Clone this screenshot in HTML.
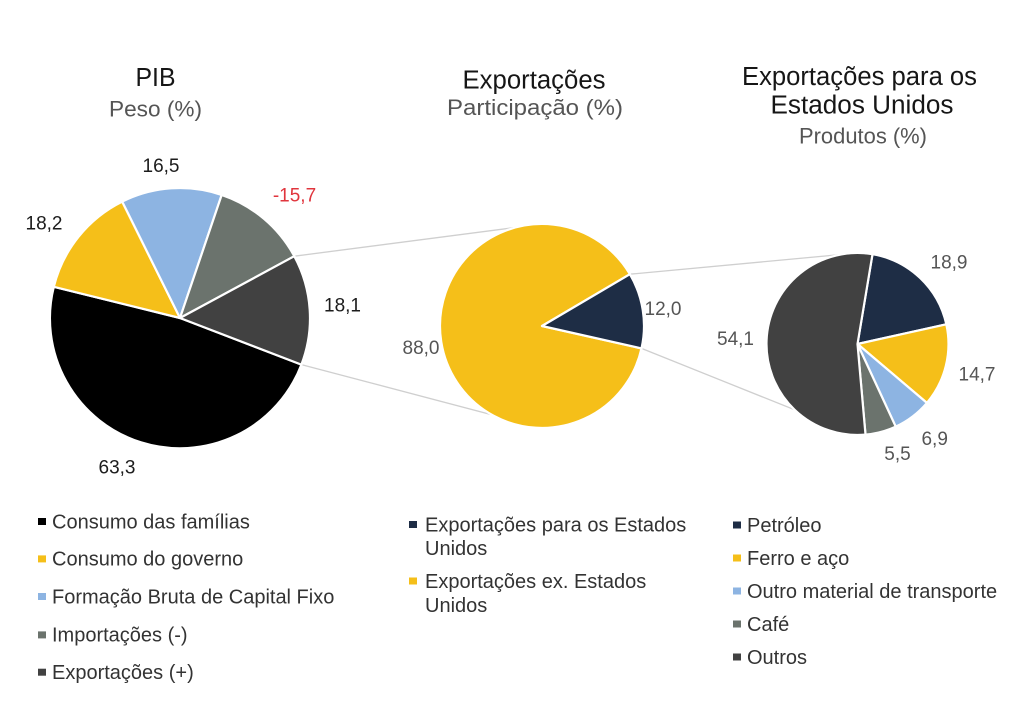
<!DOCTYPE html>
<html>
<head>
<meta charset="utf-8">
<style>
  html, body { margin:0; padding:0; background:#ffffff; }
  body { width:1024px; height:711px; overflow:hidden; }
  svg { display:block; }
  text { font-family: "Liberation Sans", Arial, sans-serif; }
  .t { fill:#161616; font-size:25.5px; }
  .s { fill:#555555; font-size:22.5px; }
  .lb { fill:#1c1c1c; font-size:19px; }
  .lg { fill:#555555; font-size:19px; }
  .leg { fill:#333333; font-size:20px; }
</style>
</head>
<body>
<svg width="1024" height="711" viewBox="0 0 1024 711" xmlns="http://www.w3.org/2000/svg">
  <rect width="1024" height="711" fill="#ffffff"/>

  <!-- Titles -->
  <text class="t" x="155.5" y="86" text-anchor="middle" textLength="40" lengthAdjust="spacingAndGlyphs">PIB</text>
  <text class="s" x="155.5" y="116.7" text-anchor="middle" textLength="93" lengthAdjust="spacingAndGlyphs">Peso (%)</text>

  <text class="t" x="534" y="88.3" text-anchor="middle" textLength="143" lengthAdjust="spacingAndGlyphs">Exportações</text>
  <text class="s" x="535" y="115" text-anchor="middle" textLength="176" lengthAdjust="spacingAndGlyphs">Participação (%)</text>

  <text class="t" x="859.5" y="85" text-anchor="middle" textLength="235" lengthAdjust="spacingAndGlyphs">Exportações para os</text>
  <text class="t" x="862" y="113.3" text-anchor="middle" textLength="183" lengthAdjust="spacingAndGlyphs">Estados Unidos</text>
  <text class="s" x="863" y="143.3" text-anchor="middle" textLength="128" lengthAdjust="spacingAndGlyphs">Produtos (%)</text>

  <!-- Connector lines (behind pies) -->
  <g stroke="#cfcfcf" stroke-width="1.3" fill="none">
    <line x1="294.3" y1="256.2" x2="542" y2="224"/>
    <line x1="301.4" y1="364.6" x2="542" y2="428"/>
    <line x1="629.9" y1="274.2" x2="857.5" y2="253"/>
    <line x1="641.5" y1="348.4" x2="857.5" y2="435"/>
  </g>

  <!-- Left pie: PIB -->
  <g stroke="#ffffff" stroke-width="2.2" stroke-linejoin="round">
    <path d="M180,318 L301.4,364.6 A130,130 0 0 1 53.8,286.8 Z" fill="#000000"/>
    <path d="M180,318 L53.8,286.8 A130,130 0 0 1 122.2,201.6 Z" fill="#F5BF19"/>
    <path d="M180,318 L122.2,201.6 A130,130 0 0 1 221.7,194.9 Z" fill="#8DB4E2"/>
    <path d="M180,318 L221.7,194.9 A130,130 0 0 1 294.3,256.2 Z" fill="#6B736D"/>
    <path d="M180,318 L294.3,256.2 A130,130 0 0 1 301.4,364.6 Z" fill="#414141"/>
  </g>

  <!-- Middle pie -->
  <g stroke="#ffffff" stroke-width="2.2" stroke-linejoin="round">
    <path d="M542,326 L641.5,348.4 A102,102 0 1 1 629.9,274.2 Z" fill="#F5BF19"/>
    <path d="M542,326 L629.9,274.2 A102,102 0 0 1 641.5,348.4 Z" fill="#1E2D45"/>
  </g>

  <!-- Right pie -->
  <g stroke="#ffffff" stroke-width="2.2" stroke-linejoin="round">
    <path d="M857.5,344 L872.5,254.2 A91,91 0 0 1 946.3,324.3 Z" fill="#1E2D45"/>
    <path d="M857.5,344 L946.3,324.3 A91,91 0 0 1 926.9,402.9 Z" fill="#F5BF19"/>
    <path d="M857.5,344 L926.9,402.9 A91,91 0 0 1 895.7,426.6 Z" fill="#8DB4E2"/>
    <path d="M857.5,344 L895.7,426.6 A91,91 0 0 1 865.5,434.6 Z" fill="#6B736D"/>
    <path d="M857.5,344 L865.5,434.6 A91,91 0 1 1 872.5,254.2 Z" fill="#414141"/>
  </g>

  <!-- Data labels left -->
  <text class="lb" x="161" y="172" text-anchor="middle">16,5</text>
  <text class="lb" x="294.5" y="201.7" text-anchor="middle" style="fill:#E0353D">-15,7</text>
  <text class="lb" x="44" y="229.3" text-anchor="middle">18,2</text>
  <text class="lb" x="342.5" y="311.7" text-anchor="middle">18,1</text>
  <text class="lb" x="117" y="473.3" text-anchor="middle">63,3</text>

  <!-- Data labels middle -->
  <text class="lg" x="421" y="354" text-anchor="middle">88,0</text>
  <text class="lg" x="663" y="315" text-anchor="middle">12,0</text>

  <!-- Data labels right -->
  <text class="lg" x="949" y="268.3" text-anchor="middle">18,9</text>
  <text class="lg" x="735.5" y="345" text-anchor="middle">54,1</text>
  <text class="lg" x="977" y="380.7" text-anchor="middle">14,7</text>
  <text class="lg" x="934.7" y="445" text-anchor="middle">6,9</text>
  <text class="lg" x="897.5" y="460" text-anchor="middle">5,5</text>

  <!-- Left legend -->
  <rect x="38" y="518" width="8" height="7" fill="#000000"/>
  <text class="leg" x="52" y="528.3">Consumo das famílias</text>
  <rect x="38" y="555.4" width="8" height="7" fill="#F5BF19"/>
  <text class="leg" x="52" y="565.7">Consumo do governo</text>
  <rect x="38" y="593" width="8" height="7" fill="#8DB4E2"/>
  <text class="leg" x="52" y="603.3">Formação Bruta de Capital Fixo</text>
  <rect x="38" y="631.4" width="8" height="7" fill="#6B736D"/>
  <text class="leg" x="52" y="641.7">Importações (-)</text>
  <rect x="38" y="668.7" width="8" height="7" fill="#414141"/>
  <text class="leg" x="52" y="679">Exportações (+)</text>

  <!-- Middle legend -->
  <rect x="409" y="521" width="8" height="7" fill="#1E2D45"/>
  <text class="leg" x="425" y="531.3">Exportações para os Estados</text>
  <text class="leg" x="425" y="555">Unidos</text>
  <rect x="409" y="577.5" width="8" height="7" fill="#F5BF19"/>
  <text class="leg" x="425" y="588">Exportações ex. Estados</text>
  <text class="leg" x="425" y="612">Unidos</text>

  <!-- Right legend -->
  <rect x="733" y="521.5" width="8" height="7" fill="#1E2D45"/>
  <text class="leg" x="747" y="532">Petróleo</text>
  <rect x="733" y="554.5" width="8" height="7" fill="#F5BF19"/>
  <text class="leg" x="747" y="565">Ferro e aço</text>
  <rect x="733" y="587.5" width="8" height="7" fill="#8DB4E2"/>
  <text class="leg" x="747" y="598">Outro material de transporte</text>
  <rect x="733" y="620.5" width="8" height="7" fill="#6B736D"/>
  <text class="leg" x="747" y="631">Café</text>
  <rect x="733" y="653.5" width="8" height="7" fill="#414141"/>
  <text class="leg" x="747" y="664">Outros</text>
</svg>
</body>
</html>
